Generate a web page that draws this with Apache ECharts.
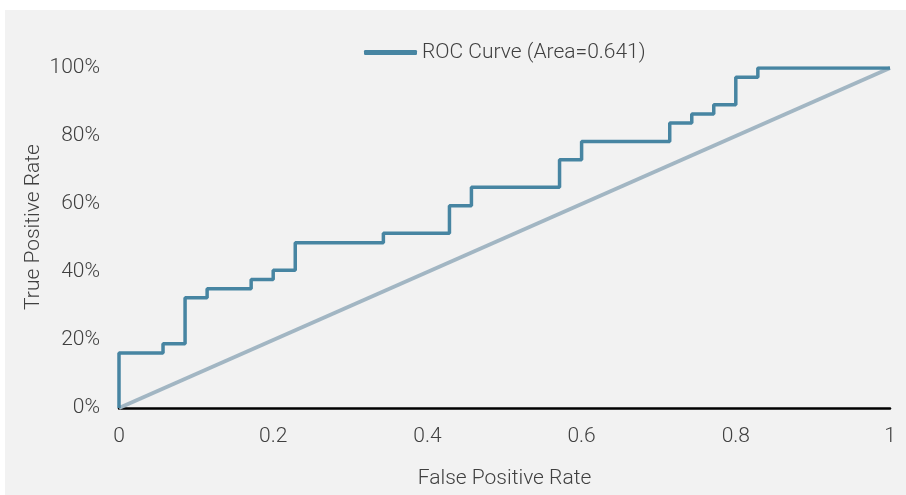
<!DOCTYPE html>
<html>
<head>
<meta charset="utf-8">
<script src="https://cdn.jsdelivr.net/npm/echarts@6/dist/echarts.min.js"></script>
<style>
	html, body { margin: 0; padding: 0; background: #fff; }
	#chart { width: 906px; height: 495px; }
</style>
</head>
<body>
<div id="chart"></div>
<script>
// ROC curve corner points (false positive rate / true positive rate in %)
var fprValues = [0, 0, 0.0571, 0.0857, 0.1143, 0.1714, 0.2, 0.2286, 0.3429, 0.4286, 0.4571, 0.5714, 0.6, 0.7143, 0.7429, 0.7714, 0.8, 0.8286, 1];
var tprValues = [0, 16.2, 18.9, 32.4, 35.1, 37.8, 40.5, 48.6, 51.4, 59.5, 64.9, 73.0, 78.4, 83.8, 86.5, 89.2, 97.3, 100, 100];
var diagonalX = [0, 1];
var diagonalY = [0, 100];
var rocName = 'ROC Curve (Area=0.641)';

(function() {
	var myChart = echarts.init(document.getElementById('chart'));
	var textColor = '#404040';
	var font = 'Roboto';

	var rocData = [];
	for (var i = 0; i < fprValues.length; i++) {
		rocData.push([fprValues[i], tprValues[i]]);
	}
	var diagData = [];
	for (var j = 0; j < diagonalX.length; j++) {
		diagData.push([diagonalX[j], diagonalY[j]]);
	}

	var option = {
		animation: false,
		textStyle: { fontFamily: font },
		graphic: [{
			type: 'rect',
			silent: true,
			z: -10,
			shape: { x: 5, y: 10, width: 901, height: 485 },
			style: { fill: '#f2f2f2' }
		}],
		legend: {
			data: [rocName],
			top: 37,
			left: 359,
			icon: 'roundRect',
			itemWidth: 53,
			itemHeight: 5,
			itemGap: 10,
			textStyle: { color: textColor, fontSize: 21, fontFamily: font, fontWeight: 300 }
		},
		grid: {
			left: 119,
			right: 16,
			top: 68,
			bottom: 87,
			outerBoundsMode: 'none'
		},
		xAxis: {
			type: 'value',
			min: 0,
			max: 1,
			interval: 0.2,
			name: 'False Positive Rate',
			nameLocation: 'middle',
			nameGap: 60,
			nameTextStyle: { color: textColor, fontSize: 21, fontFamily: font, fontWeight: 300 },
			axisLine: { show: true, onZero: false, lineStyle: { color: '#000', width: 2.5 } },
			axisTick: { show: false },
			splitLine: { show: false },
			axisLabel: { color: textColor, fontSize: 21, fontFamily: font, fontWeight: 300, margin: 18 }
		},
		yAxis: {
			type: 'value',
			min: 0,
			max: 100,
			interval: 20,
			name: 'True Positive Rate',
			nameLocation: 'middle',
			nameGap: 75,
			nameMoveOverlap: false,
			nameTextStyle: { color: textColor, fontSize: 21, fontFamily: font, fontWeight: 300, padding: [0, 0, 0, 22] },
			axisLine: { show: false },
			axisTick: { show: false },
			splitLine: { show: false },
			axisLabel: { color: textColor, fontSize: 21, fontFamily: font, fontWeight: 300, margin: 19, formatter: '{value}%' }
		},
		series: [{
			name: 'diagonal',
			type: 'line',
			data: diagData,
			symbol: 'none',
			z: 2,
			lineStyle: { color: '#a2b6c3', width: 4 }
		}, {
			name: rocName,
			type: 'line',
			step: 'end',
			data: rocData,
			symbol: 'none',
			z: 3,
			itemStyle: { color: '#4785a2' },
			lineStyle: { color: '#4785a2', width: 3.5 }
		}]
	};
	myChart.setOption(option);
})();
</script>
</body>
</html>
